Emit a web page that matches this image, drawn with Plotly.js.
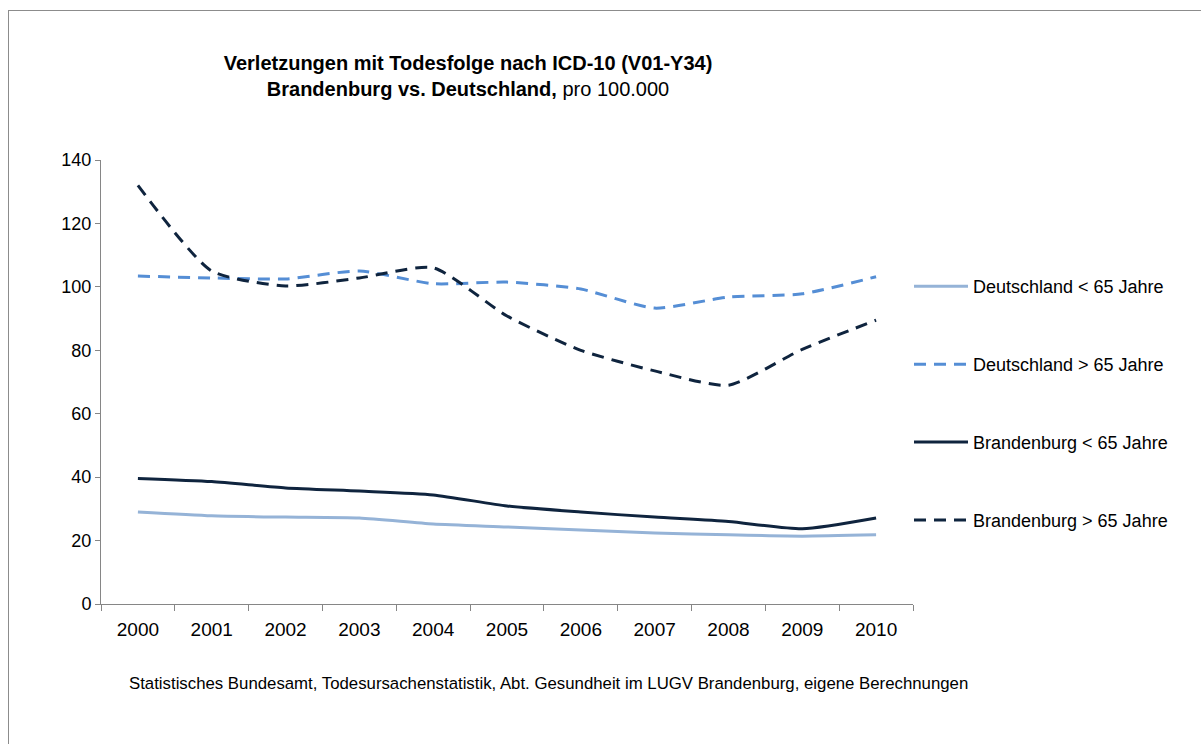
<!DOCTYPE html>
<html>
<head>
<meta charset="utf-8">
<script src="https://cdn.plot.ly/plotly-3.0.1.min.js"></script>
<style>
  html, body { margin: 0; padding: 0; overflow: hidden; background: #fff; }
  #chart { position: absolute; left: 0; top: 0; width: 1201px; height: 744px; }
  #frame { position: absolute; left: 8px; top: 10px; width: 1300px; height: 900px;
           border-left: 1px solid #8c8c8c; border-top: 1px solid #8c8c8c; pointer-events: none; }
</style>
</head>
<body>
<div id="chart"></div>
<div id="frame"></div>
<script>
const years = ["2000","2001","2002","2003","2004","2005","2006","2007","2008","2009","2010"];

const seriesNames = [
  "Deutschland < 65 Jahre",
  "Deutschland > 65 Jahre",
  "Brandenburg < 65 Jahre",
  "Brandenburg > 65 Jahre"
];

const deUnder65 = [29.0, 27.8, 27.4, 27.1, 25.2, 24.3, 23.3, 22.4, 21.8, 21.4, 21.8];
const deOver65  = [103.4, 102.8, 102.5, 105.0, 101.0, 101.5, 99.3, 93.3, 96.8, 97.8, 103.2];
const bbUnder65 = [39.6, 38.6, 36.6, 35.6, 34.4, 30.9, 29.0, 27.4, 26.0, 23.7, 27.1];
const bbOver65  = [132.0, 105.0, 100.3, 102.8, 106.0, 90.8, 80.0, 73.5, 69.0, 80.3, 89.5];

const sourceText = "Statistisches Bundesamt, Todesursachenstatistik, Abt. Gesundheit im LUGV Brandenburg, eigene Berechnungen";

const FONT = "Liberation Sans, Arial, sans-serif";

function mk(name, y, color, dash, group) {
  return {
    type: "scatter", mode: "lines", name: name, x: years, y: y,
    legendgroup: group,
    line: { color: color, width: 3, dash: dash, shape: "spline", smoothing: 0.6 },
    hoverinfo: "x+y+name"
  };
}

const data = [
  mk(seriesNames[0], deUnder65, "#95B3D7", "solid", "g1"),
  mk(seriesNames[1], deOver65,  "#558ED5", "12px,8px", "g2"),
  mk(seriesNames[2], bbUnder65, "#0F243E", "solid", "g3"),
  mk(seriesNames[3], bbOver65,  "#0F243E", "12px,8px", "g4")
];

const layout = {
  width: 1201, height: 744,
  margin: { l: 101, r: 288, t: 160, b: 140, pad: 0 },
  paper_bgcolor: "#ffffff", plot_bgcolor: "#ffffff",
  font: { family: FONT, size: 18, color: "#000000" },
  showlegend: true,
  title: {
    text: "<b>Verletzungen mit Todesfolge nach ICD-10 (V01-Y34)</b><br><b>Brandenburg vs. Deutschland,</b> pro 100.000",
    font: { family: FONT, size: 20, color: "#000000" },
    xref: "container", x: 468 / 1201, xanchor: "center",
    yref: "container", y: 1 - 70 / 744, yanchor: "top"
  },
  xaxis: {
    type: "category",
    range: [-0.5, 10.5],
    showline: true, linecolor: "#868686", linewidth: 1,
    ticks: "outside", tickson: "boundaries", ticklen: 6, tickcolor: "#868686", tickwidth: 1,
    showgrid: false, zeroline: false,
    ticklabelstandoff: 8,
    tickfont: { family: FONT, size: 19, color: "#000000" },
    fixedrange: true
  },
  yaxis: {
    range: [0, 140], dtick: 20, tick0: 0,
    showline: true, linecolor: "#868686", linewidth: 1,
    ticks: "outside", ticklen: 5, tickcolor: "#868686", tickwidth: 1,
    showgrid: false, zeroline: false,
    tickfont: { family: FONT, size: 18, color: "#000000" },
    fixedrange: true
  },
  legend: {
    x: 1.0 - 4 / 812, xanchor: "left", xref: "paper",
    y: 0.77 - 6 / 444, yanchor: "top", yref: "paper",
    bgcolor: "rgba(0,0,0,0)", borderwidth: 0,
    font: { family: FONT, size: 18, color: "#000000" },
    tracegroupgap: 51.5, itemwidth: 54,
    traceorder: "grouped"
  },
  annotations: [{
    text: sourceText, showarrow: false,
    xref: "paper", x: (548 - 101) / 812, xanchor: "center",
    yref: "paper", y: (604 - 683) / 444, yanchor: "middle",
    font: { family: FONT, size: 16.8, color: "#000000" }
  }]
};

Plotly.newPlot("chart", data, layout, { displayModeBar: false });
</script>
</body>
</html>
